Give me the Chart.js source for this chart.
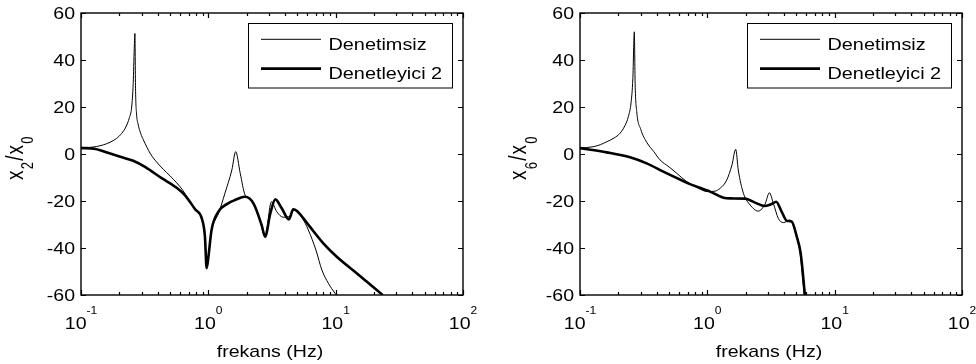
<!DOCTYPE html>
<html>
<head>
<meta charset="utf-8">
<script src="https://cdn.jsdelivr.net/npm/chart.js@4.4.1/dist/chart.umd.min.js"></script>
<style>
html,body{margin:0;padding:0;background:#fff;}
#wrap{position:relative;width:976px;height:364px;overflow:hidden;}
canvas{position:absolute;top:0;}
</style>
</head>
<body>
<div id="wrap">
<canvas id="c1" width="488" height="364" style="left:0px"></canvas>
<canvas id="c2" width="488" height="364" style="left:488px"></canvas>
</div>
<script>
// ---------- data ----------
const seriesNames = ['Denetimsiz', 'Denetleyici 2'];
const xTickExponents = [-1, 0, 1, 2];
const yTickValues = [-60, -40, -20, 0, 20, 40, 60];
const xAxisTitle = 'frekans (Hz)';
const leftYLabel = ['x', '2', '/', 'x', '0'];
const rightYLabel = ['x', '6', '/', 'x', '0'];

// left panel (x2/x0)
const leftFreqUncontrolled = [0.1, 0.118, 0.133, 0.15, 0.169, 0.19, 0.209, 0.225, 0.24, 0.25, 0.257, 0.262, 0.265, 0.268, 0.273, 0.28, 0.295, 0.309, 0.33, 0.348, 0.381, 0.443, 0.5, 0.565, 0.63, 0.7, 0.787, 0.888, 0.94, 0.97, 1.0, 1.06, 1.13, 1.2, 1.35, 1.53, 1.64, 1.78, 1.94, 2.1, 2.26, 2.55, 2.79, 3.13, 3.44, 3.88, 4.38, 4.65, 4.94, 5.5, 6.1, 7.0, 7.8, 8.76, 9.9, 10.3];
const leftMagUncontrolled  = [2.6, 2.8, 3.2, 3.9, 5.0, 6.6, 8.8, 11.5, 15.5, 20, 30, 45, 51.3, 28, 17, 13, 8.6, 6, 2.8, 0.4, -2.6, -6.5, -9.3, -12.3, -15.4, -19.5, -23.5, -27.4, -35, -48.6, -44, -32.3, -28.2, -25.4, -16.7, -6.8, 1.0, -8.2, -17.4, -19.0, -21.2, -28.3, -35.2, -20.3, -24.5, -26.9, -26.4, -24, -24.3, -27.5, -32.3, -40.9, -49.4, -55, -59.3, -60.5];
const leftFreqController = [0.1, 0.13, 0.165, 0.21, 0.257, 0.318, 0.43, 0.548, 0.656, 0.787, 0.888, 0.94, 0.97, 1.0, 1.06, 1.2, 1.43, 1.62, 1.94, 2.26, 2.62, 2.79, 3.07, 3.36, 3.77, 4.29, 4.65, 4.94, 6.2, 8.0, 10.2, 14.7, 17.5, 23.4];
const leftMagController  = [2.6, 2.1, 0.4, -1.4, -2.9, -5.5, -10.3, -13.9, -17.6, -23.5, -27.4, -35, -48.6, -44, -32.3, -24.5, -21, -19.6, -18.2, -21, -30.2, -35.2, -25.2, -19.3, -23.1, -27.8, -23.5, -24.1, -30.6, -38, -43.7, -50.8, -54.3, -60];

// right panel (x6/x0)
const rightFreqUncontrolled = [0.1, 0.127, 0.145, 0.162, 0.185, 0.206, 0.225, 0.24, 0.252, 0.26, 0.267, 0.271, 0.279, 0.3, 0.334, 0.38, 0.425, 0.5, 0.575, 0.69, 0.85, 1.0, 1.15, 1.26, 1.42, 1.56, 1.67, 1.75, 1.92, 2.17, 2.51, 2.84, 3.07, 3.3, 3.61, 3.96, 4.47, 4.98, 5.35, 5.78];
const rightMagUncontrolled  = [2.5, 3.1, 4.0, 5.2, 6.8, 8.8, 12, 16, 22, 32, 52, 30, 18, 10.5, 5, 1, -2.5, -5.5, -8.2, -11.8, -14.6, -16, -15.8, -14.6, -11.1, -4.7, 2.0, -6.8, -16.7, -21.7, -24.3, -21.3, -16.5, -21, -27.4, -29.2, -28.1, -34.5, -42.3, -60.5];
const rightFreqController = [0.1, 0.162, 0.247, 0.334, 0.451, 0.646, 0.731, 1.05, 1.34, 1.51, 1.98, 2.37, 2.84, 3.2, 3.47, 3.84, 4.2, 4.6, 5.04, 5.41, 5.85];
const rightMagController  = [2.5, 0.7, -1.4, -4, -7.5, -11.5, -12.8, -16, -18.6, -18.9, -19, -20.7, -22.1, -21.3, -20.3, -24.6, -28.4, -28.8, -35.2, -42.3, -60.5];

// ---------- drawing helpers ----------
const FONT = '"Liberation Sans", Arial, Helvetica, sans-serif';
const SX = 1.15; // horizontal text stretch seen in the reference

function sText(ctx, text, x, y, size, sx, align) {
  ctx.save();
  ctx.font = size + 'px ' + FONT;
  ctx.textAlign = align || 'left';
  ctx.textBaseline = 'alphabetic';
  ctx.translate(x, y);
  ctx.scale(sx, 1);
  ctx.fillText(text, 0, 0);
  ctx.restore();
}
function sWidth(ctx, text, size, sx) {
  ctx.save();
  ctx.font = size + 'px ' + FONT;
  const w = ctx.measureText(text).width * sx;
  ctx.restore();
  return w;
}

function makeDecorPlugin(yLabelParts, yLabelX) {
  return {
    id: 'matlabDecor',
    afterDatasetsDraw(chart) {
      const ctx = chart.ctx;
      const ca = chart.chartArea;
      const xs = chart.scales.x, ys = chart.scales.y;
      ctx.save();
      ctx.fillStyle = '#000';
      ctx.strokeStyle = '#000';

      // axes box
      ctx.lineWidth = 1.4;
      ctx.strokeRect(ca.left, ca.top, ca.right - ca.left, ca.bottom - ca.top);

      // y ticks (inward, left and right) + labels
      ctx.lineWidth = 1;
      yTickValues.forEach(v => {
        const py = Math.round(ys.getPixelForValue(v)) + 0.5;
        ctx.beginPath();
        ctx.moveTo(ca.left, py); ctx.lineTo(ca.left + 5, py);
        ctx.moveTo(ca.right, py); ctx.lineTo(ca.right - 5, py);
        ctx.stroke();
        sText(ctx, String(v), ca.left - 6, ys.getPixelForValue(v) + 6, 17, SX, 'right');
      });

      // x ticks (major decades, minor 2..9), top and bottom, inward
      ctx.lineWidth = 1.2;
      for (let e = xTickExponents[0]; e <= xTickExponents[xTickExponents.length - 1]; e++) {
        for (let k = 1; k <= 9; k++) {
          if (e === xTickExponents[xTickExponents.length - 1] && k > 1) break;
          const val = k * Math.pow(10, e);
          const px = Math.round(xs.getPixelForValue(val)) + 0.5;
          const len = k === 1 ? 5 : 3;
          ctx.beginPath();
          ctx.moveTo(px, ca.bottom); ctx.lineTo(px, ca.bottom - len);
          ctx.moveTo(px, ca.top); ctx.lineTo(px, ca.top + len);
          ctx.stroke();
        }
      }

      // x tick labels 10^e
      xTickExponents.forEach(e => {
        const px = xs.getPixelForValue(Math.pow(10, e));
        const base = '10', ex = String(e);
        const wb = sWidth(ctx, base, 17, SX), we = sWidth(ctx, ex, 10.5, SX);
        const x0 = px - (wb + we) / 2;
        sText(ctx, base, x0, ca.bottom + 34, 17, SX, 'left');
        sText(ctx, ex, x0 + wb, ca.bottom + 18.5, 10.5, SX, 'left');
      });

      // x axis title
      sText(ctx, xAxisTitle, (ca.left + ca.right) / 2 - 2, ca.bottom + 62, 17, SX, 'center');

      // y axis title, rotated, with subscripts
      ctx.save();
      ctx.translate(yLabelX, 180);
      ctx.rotate(-Math.PI / 2);
      ctx.scale(1, 1.22);
      ctx.textBaseline = 'alphabetic';
      ctx.textAlign = 'left';
      let cx = 0;
      yLabelParts.forEach((t, i) => {
        const sub = (i === 1 || i === 4);
        const size = sub ? 13 : 19;
        ctx.font = size + 'px ' + FONT;
        ctx.fillText(t, cx, sub ? 8.7 : 0);
        cx += ctx.measureText(t).width + 1.2;
      });
      ctx.restore();

      // legend
      const bx = ca.right - 215, by = ca.top + 10, bw = 204, bh = 64.5;
      ctx.fillStyle = '#fff';
      ctx.fillRect(bx, by, bw, bh);
      ctx.fillStyle = '#000';
      ctx.lineWidth = 1;
      ctx.strokeRect(Math.round(bx) + 0.5, Math.round(by) + 0.5, bw, bh);
      const rows = [16.3, 45.6];
      chart.data.datasets.forEach((ds, i) => {
        const ly = by + rows[i];
        ctx.lineWidth = ds.borderWidth;
        ctx.strokeStyle = ds.borderColor;
        ctx.beginPath();
        ctx.moveTo(bx + 13, ly); ctx.lineTo(bx + 73, ly);
        ctx.stroke();
        sText(ctx, ds.label, bx + 80.5, ly + 10.5, 16, 1.24, 'left');
      });
      ctx.restore();
    }
  };
}

function buildChart(id, padLeft, padRight, fU, mU, fC, mC, yParts, yLabelX) {
  const toPts = (f, m) => f.map((v, i) => ({ x: v, y: m[i] }));
  return new Chart(document.getElementById(id), {
    type: 'line',
    data: {
      datasets: [
        { label: seriesNames[0], data: toPts(fU, mU), borderColor: '#000', borderWidth: 1, pointRadius: 0, cubicInterpolationMode: 'monotone', fill: false },
        { label: seriesNames[1], data: toPts(fC, mC), borderColor: '#000', borderWidth: 2.6, pointRadius: 0, cubicInterpolationMode: 'monotone', fill: false }
      ]
    },
    options: {
      responsive: false,
      devicePixelRatio: 1,
      animation: false,
      events: [],
      layout: { padding: { left: padLeft, right: padRight, top: 13, bottom: 69 } },
      plugins: { legend: { display: false }, tooltip: { enabled: false } },
      scales: {
        x: { type: 'logarithmic', min: 0.1, max: 100, display: false },
        y: { type: 'linear', min: -60, max: 60, display: false }
      }
    },
    plugins: [makeDecorPlugin(yParts, yLabelX)]
  });
}

buildChart('c1', 81, 25, leftFreqUncontrolled, leftMagUncontrolled, leftFreqController, leftMagController, leftYLabel, 22.7);
buildChart('c2', 92, 14, rightFreqUncontrolled, rightMagUncontrolled, rightFreqController, rightMagController, rightYLabel, 38);
</script>
</body>
</html>
